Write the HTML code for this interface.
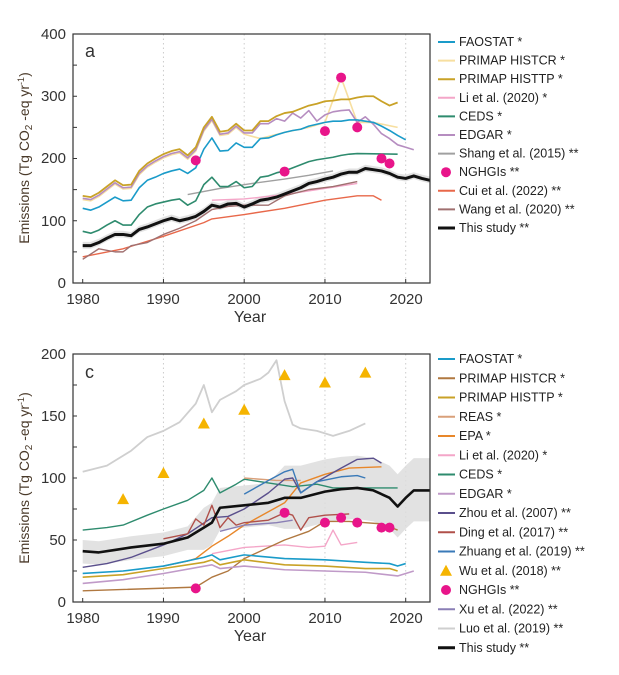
<!DOCTYPE html><html><head><meta charset="utf-8"><style>
body{margin:0;background:#fff;width:619px;height:675px;overflow:hidden;font-family:"Liberation Sans",sans-serif}
svg{position:absolute;left:0;top:0}
</style></head><body>
<svg id="s" width="619" height="675" xmlns="http://www.w3.org/2000/svg" font-family="Liberation Sans, sans-serif">
<g id="g1"></g><g id="g2"></g>
<g font-size="15" fill="#333" text-anchor="end">
<text x="66" y="39">400</text><text x="66" y="101">300</text><text x="66" y="163">200</text><text x="66" y="226">100</text><text x="66" y="288">0</text>
<text x="66" y="359">200</text><text x="66" y="421">150</text><text x="66" y="483">100</text><text x="66" y="545">50</text><text x="66" y="607">0</text>
</g>
<g font-size="15" fill="#333" text-anchor="middle">
<text x="83" y="304">1980</text><text x="163" y="304">1990</text><text x="244" y="304">2000</text><text x="325" y="304">2010</text><text x="406" y="304">2020</text>
<text x="250" y="322" font-size="16">Year</text>
<text x="83" y="623">1980</text><text x="163" y="623">1990</text><text x="244" y="623">2000</text><text x="325" y="623">2010</text><text x="406" y="623">2020</text>
<text x="250" y="641" font-size="16">Year</text>
</g>
<text x="85" y="57" font-size="18" fill="#333">a</text>
<text x="85" y="378" font-size="18" fill="#333">c</text>
<text transform="translate(29,158) rotate(-90)" font-size="14" fill="#4a3a2a" text-anchor="middle">Emissions (Tg CO<tspan font-size="10" dy="3">2</tspan><tspan dy="-3"> -eq yr</tspan><tspan font-size="9" dy="-5">-1</tspan><tspan dy="5">)</tspan></text>
<text transform="translate(29,478) rotate(-90)" font-size="14" fill="#4a3a2a" text-anchor="middle">Emissions (Tg CO<tspan font-size="10" dy="3">2</tspan><tspan dy="-3"> -eq yr</tspan><tspan font-size="9" dy="-5">-1</tspan><tspan dy="5">)</tspan></text>
<g id="leg" font-size="12.5" fill="#222"></g>
</svg>
<script>
var NS="http://www.w3.org/2000/svg";
function el(p,t,a){var e=document.createElementNS(NS,t);for(var k in a)e.setAttribute(k,a[k]);p.appendChild(e);return e;}
function X(y){return 82.7+(y-1980)*8.075;}
function mk(g,top,bot,max){
 var Y=function(v){return bot-(bot-top)*v/max;};
 [1990,2000,2010,2020].forEach(function(y){el(g,"line",{x1:X(y),x2:X(y),y1:top,y2:bot,stroke:"#ccc","stroke-dasharray":"1.5,3"});});
 return Y;
}
function pl(g,Y,d,c,w){var p=[];for(var i=0;i<d.length;i+=2)p.push(X(d[i])+","+Y(d[i+1]));el(g,"polyline",{points:p.join(" "),fill:"none",stroke:c,"stroke-width":w||1.4,"stroke-linejoin":"round"});}
function band(g,Y,d,lo,hi){var a=[],b=[];for(var i=0;i<d.length;i+=2){a.push(X(d[i])+","+Y(d[i+1]+hi(d[i])));b.unshift(X(d[i])+","+Y(d[i+1]-lo(d[i])));}el(g,"polygon",{points:a.concat(b).join(" "),fill:"#ddd",opacity:0.85});}
function dots(g,Y,d,c){for(var i=0;i<d.length;i+=2)el(g,"circle",{cx:X(d[i]),cy:Y(d[i+1]),r:5,fill:c});}
function tri(g,Y,d,c){for(var i=0;i<d.length;i+=2){var x=X(d[i]),y=Y(d[i+1]);el(g,"polygon",{points:(x-6)+","+(y+5)+" "+(x+6)+","+(y+5)+" "+x+","+(y-6),fill:c});}}
function frame(g,top,bot,Y,step,max){
 el(g,"rect",{x:73,y:top,width:357,height:bot-top,fill:"none",stroke:"#333","stroke-width":1.2});
 for(var v=0;v<=max;v+=step)el(g,"line",{x1:73,x2:77,y1:Y(v),y2:Y(v),stroke:"#333"});
 [1980,1990,2000,2010,2020].forEach(function(y){el(g,"line",{x1:X(y),x2:X(y),y1:bot,y2:bot-4,stroke:"#333"});});
}
var g=document.getElementById("g1");var Y=mk(g,34,283,400);
var blk=[1980,60,1981,60,1982,65,1983,72,1984,78,1985,78,1986,76,1987,86,1988,90,1989,95,1990,100,1991,104,1992,100,1993,103,1994,107,1995,115,1996,125,1997,122,1998,127,1999,128,2000,122,2001,127,2002,133,2003,135,2004,138,2005,143,2006,148,2007,153,2008,160,2009,163,2010,167,2011,170,2012,175,2013,178,2014,178,2015,184,2016,182,2017,180,2018,176,2019,170,2020,168,2021,172,2022,168,2023,165];
band(g,Y,blk,function(){return 5},function(){return 6});
pl(g,Y,[1993,142,1997,152,2001,160,2005,167,2008,173,2011,180],"#a0a0a0");
pl(g,Y,[1996,133,2000,135,2005,142,2010,152,2014,160],"#f4a6c8");
pl(g,Y,[1980,42,1985,55,1990,75,1995,97,1996,103,2000,110,2005,120,2010,133,2014,140,2016,140,2017,133],"#e8684a");
pl(g,Y,[1980,38,1982,55,1984,50,1985,50,1986,60,1988,65,1990,78,1992,88,1994,100,1996,118,1998,123,2000,125,2003,125,2005,140,2008,150,2011,155,2014,163],"#a07070");
pl(g,Y,[1980,83,1981,80,1982,85,1983,93,1984,100,1985,93,1986,93,1987,110,1988,122,1989,127,1990,130,1991,133,1992,135,1993,125,1994,132,1995,158,1996,170,1997,155,1998,155,1999,163,2000,153,2001,155,2002,170,2003,172,2004,177,2005,180,2006,185,2007,190,2008,195,2009,198,2010,200,2011,202,2012,205,2013,207,2014,208,2019,207],"#2e8b6e",1.6);
var fao=[1980,120,1981,117,1982,122,1983,130,1984,138,1985,132,1986,133,1987,153,1988,165,1989,170,1990,176,1991,180,1992,183,1993,176,1994,185,1995,215,1996,233,1997,212,1998,213,1999,225,2000,218,2001,218,2002,232,2003,233,2004,238,2005,242,2006,245,2007,247,2008,252,2009,255,2010,258,2011,260,2012,260,2013,262,2014,262,2015,260,2016,258,2017,252,2018,245,2019,237,2020,230];
var tp=[1980,140,1981,138,1982,145,1983,155,1984,165,1985,157,1986,158,1987,180,1988,192,1989,200,1990,207,1991,212,1992,215,1993,205,1994,218,1995,250,1996,267,1997,243,1998,245,1999,256,2000,245,2001,245,2002,260,2003,260,2004,268,2005,273,2006,275,2007,280,2008,285,2009,288,2010,292,2011,293,2012,295,2013,295,2014,298,2015,300,2016,300,2017,292,2018,285,2019,290];
var cr=[];for(var i=0;i<tp.length&&tp[i]<=2000;i+=2)cr.push(tp[i],tp[i+1]-6);cr=cr.concat([2002,232,2005,242,2008,250,2010,258,2012,330,2014,258,2016,258,2019,250]);
pl(g,Y,cr,"#f7dfa0",1.6);
var ed=[];for(var i=0;i<tp.length&&tp[i]<=2004;i+=2)ed.push(tp[i],tp[i+1]-4);ed=ed.concat([2005,260,2006,273,2007,265,2008,277,2009,260,2010,270,2011,275,2012,277,2013,278,2014,258,2015,267,2016,255,2017,240,2018,232,2019,222,2020,218,2021,214]);
pl(g,Y,ed,"#b68dc0",1.6);
pl(g,Y,fao,"#1a9bc9",1.6);
pl(g,Y,tp,"#c9a227",1.8);
pl(g,Y,blk,"#111",3);
dots(g,Y,[1994,197,2005,179,2010,244,2012,330,2014,250,2017,200,2018,192],"#e8158a");
frame(g,34,283,Y,50,400);
g=document.getElementById("g2");Y=mk(g,354,602,200);
var b2=[1980,41,1982,40,1984,42,1986,44,1990,47,1993,52,1995,60,1996,64,1997,76,2000,78,2003,80,2005,84,2007,84,2010,89,2012,91,2014,92,2016,90,2018,84,2019,77,2020,84,2021,90,2023,90];
band(g,Y,b2,function(y){return y<1995?10:y<2005?18:25},function(y){return y<1995?9:y<2005?16:26});
pl(g,Y,[1980,105,1983,110,1986,122,1988,133,1990,138,1992,145,1994,160,1995,175,1996,153,1997,163,1999,170,2000,175,2002,180,2003,185,2004,195,2005,162,2006,143,2007,140,2009,138,2011,134,2013,138,2015,144],"#cfcfcf",1.8);
pl(g,Y,[1980,58,1983,60,1985,62,1988,70,1990,75,1993,82,1995,90,1996,100,1997,88,1999,95,2000,99,2003,96,2006,93,2009,95,2011,92,2019,92],"#2e8b6e");
pl(g,Y,[2000,100,2004,98,2007,98],"#d9a07a");
pl(g,Y,[1990,29,1993,33,1994,35,1996,45,1998,53,2000,62,2005,80,2007,96,2010,103,2013,108,2017,109],"#e8872a");
pl(g,Y,[1997,57,2000,62,2004,64,2006,66],"#8a7fb5");
pl(g,Y,[1980,28,1983,31,1986,36,1990,46,1993,55,1996,68,1998,69,2000,75,2003,88,2005,99,2006,100,2007,88,2009,97,2012,108,2014,115,2016,116,2017,112],"#5a4f8c");
pl(g,Y,[1990,51,1993,55,1994,67,1995,62,1996,78,1997,60,1998,68,1999,62,2000,64,2003,66,2005,72,2006,70,2007,58,2008,68,2010,70,2013,71],"#b0504a");
pl(g,Y,[2000,87,2003,98,2005,105,2006,107,2007,88,2009,97,2012,101,2014,102,2015,100],"#3a7ab8");
pl(g,Y,[1996,39,2000,44,2005,46,2008,44,2010,45,2011,58,2012,46,2014,48],"#f4a6c8");
pl(g,Y,[1980,9,1994,12,1996,20,1998,25,2000,35,2005,50,2008,57,2010,65,2013,65,2015,64,2017,63,2019,58],"#b07840");
pl(g,Y,[1980,23,1985,25,1990,29,1995,36,1996,38,1997,34,2000,38,2005,35,2010,34,2015,32,2018,31,2019,29,2020,31],"#1a9bc9",1.6);
pl(g,Y,[1980,20,1985,22,1990,27,1995,32,1996,34,1997,30,2000,34,2005,30,2010,29,2015,27,2018,27,2019,25],"#c9a227",1.6);
pl(g,Y,[1980,15,1985,18,1990,23,1996,30,1997,27,2000,29,2005,26,2010,25,2015,24,2019,21,2021,25],"#c09ac8",1.6);
pl(g,Y,b2,"#111",2.6);
tri(g,Y,[1985,83,1990,104,1995,144,2000,155,2005,183,2010,177,2015,185],"#f5b400");
dots(g,Y,[1994,11,2005,72,2010,64,2012,68,2014,64,2017,60,2018,60],"#e8158a");
frame(g,354,602,Y,25,200);
var L=document.getElementById("leg");
function leg(y0,dy,items){items.forEach(function(it,i){var y=y0+i*dy;
 if(it[2]=="o")el(L,"circle",{cx:446,cy:y,r:5,fill:it[1]});
 else if(it[2]=="t")el(L,"polygon",{points:"440,"+(y+5)+" 452,"+(y+5)+" 446,"+(y-6),fill:it[1]});
 else el(L,"line",{x1:438,x2:455,y1:y,y2:y,stroke:it[1],"stroke-width":it[2]||2});
 var t=el(L,"text",{x:459,y:y+4});t.textContent=it[0];});}
leg(42,18.6,[["FAOSTAT *","#1a9bc9"],["PRIMAP HISTCR *","#f7dfa0"],["PRIMAP HISTTP *","#c9a227"],["Li et al. (2020) *","#f4a6c8"],["CEDS *","#2e8b6e"],["EDGAR *","#b68dc0"],["Shang et al. (2015) **","#a0a0a0"],["NGHGIs **","#e8158a","o"],["Cui et al. (2022) **","#e8684a"],["Wang et al. (2020) **","#a07070"],["This study **","#111",3]]);
leg(359,19.25,[["FAOSTAT *","#1a9bc9"],["PRIMAP HISTCR *","#b07840"],["PRIMAP HISTTP *","#c9a227"],["REAS *","#d9a07a"],["EPA *","#e8872a"],["Li et al. (2020) *","#f4a6c8"],["CEDS *","#2e8b6e"],["EDGAR *","#c09ac8"],["Zhou et al. (2007) **","#5a4f8c"],["Ding et al. (2017) **","#b0504a"],["Zhuang et al. (2019) **","#3a7ab8"],["Wu et al. (2018) **","#f5b400","t"],["NGHGIs **","#e8158a","o"],["Xu et al. (2022) **","#8a7fb5"],["Luo et al. (2019) **","#cfcfcf"],["This study **","#111",3]]);
</script>
</body></html>
